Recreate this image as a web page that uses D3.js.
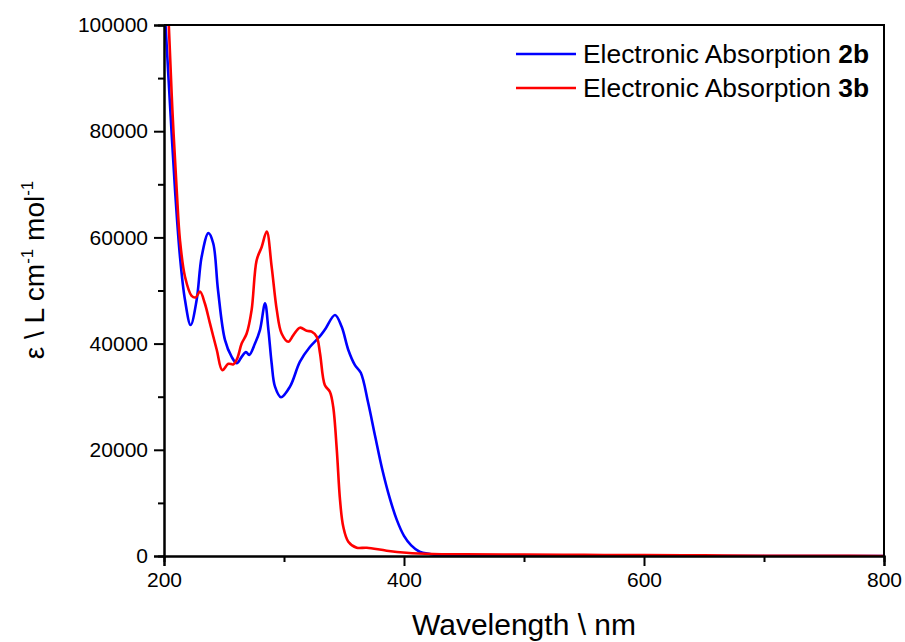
<!DOCTYPE html>
<html>
<head>
<meta charset="utf-8">
<script src="https://cdn.jsdelivr.net/npm/d3@7"></script>
<style>
	body { margin: 0; background: #fff; }
	text { font-family: "Liberation Sans", Arial, sans-serif; fill: #000; }
</style>
</head>
<body>
<div id="chart"></div>
<script>
// wavelength (nm) and epsilon (L cm-1 mol-1)
let wl2b	= [200, 201.3, 205, 209.2, 213.3, 217.5, 222.2, 227.2, 231.4, 237, 241, 245, 250.8, 256.4, 260.6, 264.7, 268.3, 271, 275.8, 280, 284.2, 287, 289.7, 292.5, 297.5, 305, 313.3, 321.7, 330, 334, 342.5, 348, 353.6, 359, 364, 370, 376, 382, 388, 394, 400, 406, 413, 421.7, 427, 440, 460, 500, 600, 700, 800];
let eps2b	= [105000, 100000, 85000, 68900, 56400, 48200, 43500, 48200, 56400, 60800, 58900, 50100, 40700, 37500, 36300, 37500, 38400, 37850, 40000, 42600, 47600, 42600, 36300, 31900, 29900, 31900, 36600, 39400, 41400, 42600, 45400, 43200, 38800, 36000, 34500, 29000, 22500, 16200, 11000, 6800, 3800, 2000, 810, 380, 190, 80, 30, 20, 10, 5, 0];

let wl3b	= [200, 204, 207, 210.6, 213.3, 217.5, 223, 226.4, 230, 234, 238.3, 244, 248.6, 253.6, 257.8, 261, 264.7, 268.9, 273, 277.2, 281.4, 285.6, 289.7, 294, 298, 303.6, 307.8, 313.3, 319, 323, 327.2, 330, 334, 338.3, 341, 344, 346.7, 349.4, 353.6, 360.6, 369, 385.6, 402, 424, 450, 500, 550, 600, 650, 700, 750, 800];
let eps3b	= [119000, 100000, 84000, 68900, 59500, 52600, 49000, 48700, 49800, 47600, 43800, 38800, 35000, 36200, 36100, 37200, 40000, 41900, 46300, 55700, 58200, 61100, 54500, 46300, 41900, 40350, 41600, 43000, 42400, 42250, 41300, 38200, 32200, 30900, 28100, 20000, 10500, 5500, 2700, 1560, 1560, 1000, 620, 380, 330, 280, 220, 160, 110, 60, 30, 10];

let xTicks	= [200, 400, 600, 800];
let xMinor	= [300, 500, 700];
let yTicks	= [0, 20000, 40000, 60000, 80000, 100000];
let yMinor	= [10000, 30000, 50000, 70000, 90000];

let series	= [
	{ name: "2b", color: "#0000ff", x: wl2b, y: eps2b },
	{ name: "3b", color: "#ff0000", x: wl3b, y: eps3b }
];

function createChart() {
	let canvasWidth		= 905;
	let canvasHeight	= 642;

	let margin		= { top: 25, right: 21, bottom: 86, left: 164 };
	let width		= canvasWidth - margin.left - margin.right;
	let height		= canvasHeight - margin.top - margin.bottom;

	let x	= d3.scaleLinear().domain([200, 800]).range([0, width]);
	let y	= d3.scaleLinear().domain([0, 100000]).range([height, 0]);

	let svg = d3.select("#chart").append("svg")
		.attr("width", canvasWidth)
		.attr("height", canvasHeight)
		.append("g")
			.attr("transform", "translate(" + margin.left + "," + margin.top + ")");

	svg.append("clipPath").attr("id", "clip")
		.append("rect").attr("width", width).attr("height", height);

	let line = d3.line()
		.x((d) => x(d[0]))
		.y((d) => y(d[1]))
		.curve(d3.curveCatmullRom.alpha(0.5));

	svg.append("g").attr("clip-path", "url(#clip)")
		.selectAll("path.curve")
		.data(series)
			.enter().append("path")
			.attr("class", "curve")
			.attr("d", (s) => line(s.x.map((v, i) => [v, s.y[i]])))
			.attr("fill", "none")
			.attr("stroke", (s) => s.color)
			.attr("stroke-width", 2.6)
			.attr("stroke-linejoin", "round");

	// frame: top and right
	svg.append("path")
		.attr("d", "M0,0H" + width + "V" + height)
		.attr("fill", "none")
		.attr("stroke", "#000")
		.attr("stroke-width", 2);

	// minor ticks first, major axes over them
	let xMin = svg.append("g").attr("transform", "translate(0," + height + ")")
		.call(d3.axisBottom(x).tickValues(xMinor).tickSize(6).tickFormat(""));
	let yMin = svg.append("g")
		.call(d3.axisLeft(y).tickValues(yMinor).tickSize(6).tickFormat(""));

	let xAxis = svg.append("g").attr("transform", "translate(0," + height + ")")
		.call(d3.axisBottom(x).tickValues(xTicks).tickSize(10).tickPadding(6).tickFormat(d3.format("d")));
	let yAxis = svg.append("g")
		.call(d3.axisLeft(y).tickValues(yTicks).tickSize(10).tickPadding(6).tickFormat(d3.format("d")));

	[xMin, yMin, xAxis, yAxis].forEach((g) => {
		g.selectAll(".domain").attr("stroke-width", 2);
		g.selectAll(".tick line").attr("stroke-width", 2);
		g.selectAll("text").style("font-size", "21px").style("font-family", "Liberation Sans, Arial, sans-serif");
	});

	// axis titles
	svg.append("text")
		.attr("x", width / 2)
		.attr("y", height + 79)
		.attr("text-anchor", "middle")
		.style("font-size", "30px")
		.text("Wavelength \\ nm");

	let yTitle = svg.append("text")
		.attr("transform", "translate(" + (44 - margin.left) + "," + (270 - margin.top) + ") rotate(-90)")
		.attr("text-anchor", "middle")
		.style("font-size", "28px");
	yTitle.append("tspan").text("\u03b5 \\ L cm");
	yTitle.append("tspan").attr("dy", -11).style("font-size", "17px").text("-1");
	yTitle.append("tspan").attr("dy", 11).text(" mol");
	yTitle.append("tspan").attr("dy", -11).style("font-size", "17px").text("-1");

	// legend
	let legend = svg.selectAll("g.legend")
		.data(series)
			.enter().append("g")
			.attr("class", "legend")
			.attr("transform", (s, i) => "translate(" + (516 - margin.left) + "," + (54 - margin.top + i * 34) + ")");

	legend.append("line")
		.attr("x1", 0).attr("x2", 60)
		.attr("stroke", (s) => s.color)
		.attr("stroke-width", 2.5);

	let lt = legend.append("text")
		.attr("x", 67)
		.attr("y", 9)
		.style("font-size", "26.4px");
	lt.append("tspan").text("Electronic Absorption ");
	lt.append("tspan").style("font-weight", "bold").text((s) => s.name);
}

createChart();
</script>
</body>
</html>
